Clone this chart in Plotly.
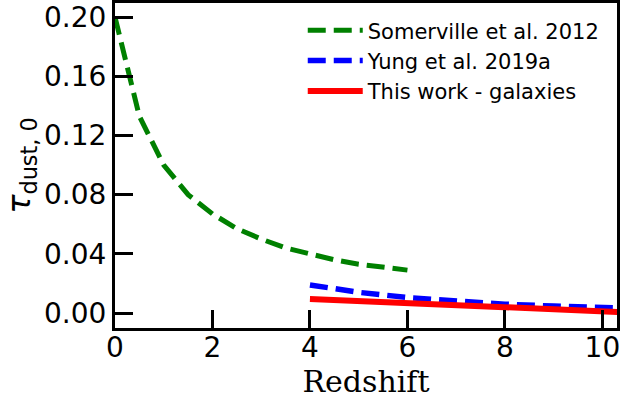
import plotly.graph_objects as go

# Somerville et al. 2012
z_som = [0, 0.5, 1, 1.5, 2, 2.5, 3, 3.5, 4, 4.5, 5, 5.5, 6]
tau_som = [0.200, 0.133, 0.100, 0.080, 0.067, 0.057, 0.050, 0.044, 0.040, 0.036, 0.033, 0.031, 0.029]

# Yung et al. 2019a
z_yung = [4, 5, 6, 7, 8, 9, 10, 10.5]
tau_yung = [0.019, 0.014, 0.0105, 0.008, 0.006, 0.0047, 0.0037, 0.0033]

# This work - galaxies
z_this = [4, 6, 8, 10, 10.5]
tau_this = [0.0095, 0.0068, 0.0041, 0.0012, 0.0005]

x_ticks = [0, 2, 4, 6, 8, 10]
y_ticks = [0.00, 0.04, 0.08, 0.12, 0.16, 0.20]

fig = go.Figure()
fig.add_trace(go.Scatter(x=z_som, y=tau_som, mode="lines", name="Somerville et al. 2012",
                         line=dict(color="green", width=5, dash="18px,8px")))
fig.add_trace(go.Scatter(x=z_yung, y=tau_yung, mode="lines", name="Yung et al. 2019a",
                         line=dict(color="blue", width=5.5, dash="18px,8px")))
fig.add_trace(go.Scatter(x=z_this, y=tau_this, mode="lines", name="This work - galaxies",
                         line=dict(color="red", width=6)))

axis_common = dict(showline=True, linecolor="black", linewidth=3, mirror=True,
                   ticks="inside", ticklen=18, tickwidth=3, tickcolor="black",
                   showgrid=False, zeroline=False, automargin=False,
                   tickfont=dict(family="DejaVu Sans", size=28, color="black"))

fig.update_xaxes(range=[0, 10.3], tickvals=x_ticks, ticktext=[str(v) for v in x_ticks],
                 ticklabelstandoff=-8,
                 title=dict(text="Redshift", font=dict(family="DejaVu Serif", size=30, color="black"),
                            standoff=2),
                 **axis_common)
fig.update_yaxes(range=[-0.0101, 0.2095], tickvals=y_ticks, ticktext=[f"{v:.2f}" for v in y_ticks],
                 title=dict(text="<i>τ</i><sub>dust, 0</sub>",
                            font=dict(family="DejaVu Sans", size=32, color="black"), standoff=4),
                 **axis_common)

fig.update_layout(
    width=621, height=400,
    margin=dict(l=115, r=4, t=3, b=72),
    plot_bgcolor="white", paper_bgcolor="white",
    legend=dict(x=0.374, y=0.978, xanchor="left", yanchor="top",
                font=dict(family="DejaVu Sans", size=21, color="black"),
                bgcolor="rgba(0,0,0,0)", itemwidth=55),
    showlegend=True,
)

fig.write_html("out.html", config={"displayModeBar": False},
               post_script="document.body.style.margin='0';")
